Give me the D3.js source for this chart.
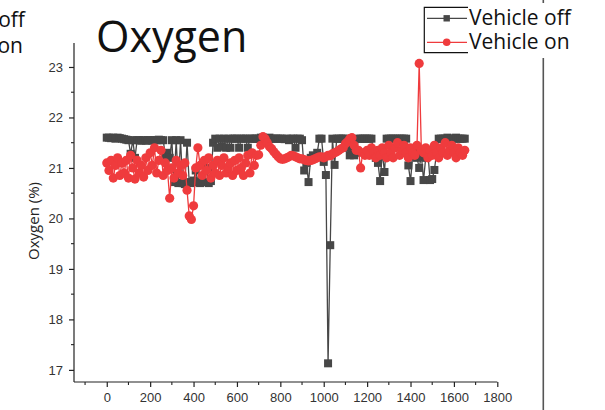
<!DOCTYPE html>
<html>
<head>
<meta charset="utf-8">
<script src="https://cdn.jsdelivr.net/npm/d3@7/dist/d3.min.js"></script>
<style>
  html, body { margin: 0; padding: 0; background: #fff; }
  svg { display: block; }
</style>
</head>
<body>
<svg id="chart" width="605" height="410"></svg>
<script>
// Sampling interval of the logger (s) — both runs share the same time grid
const timeStep = 10;

// Oxygen concentration (%) with the vehicle switched off
const vehicleOff = [
  21.60, 21.60, 21.59, 21.60, 21.58, 21.60, 21.59, 21.58, 21.57, 21.56,
  21.55, 21.28, 21.55, 21.20, 21.55, 21.55, 21.54, 21.55, 21.54, 21.55,
  21.55, 21.54, 21.55, 21.55, 21.56, 21.55, 21.55, 21.25, 21.30, 21.20,
  21.55, 20.72, 21.55, 20.70, 21.55, 20.70, 20.68, 21.50, 20.72, 20.70,
  20.75, 20.95, 20.72, 20.70, 20.78, 20.72, 21.00, 20.70, 20.74, 21.50,
  21.58, 21.40, 21.58, 21.42, 21.58, 21.40, 21.58, 21.40, 21.58, 21.58,
  21.58, 21.40, 21.58, 21.58, 21.58, 21.40, 21.58, 21.58, 21.58, 21.58,
  21.58, 21.60, 21.60, 21.58, 21.58, 21.60, 21.58, 21.58, 21.58, 21.58,
  21.58, 21.58, 21.57, 21.58, 21.55, 21.58, 21.58, 21.40, 21.58, 21.58,
  21.55, 20.95, 21.10, 20.72, 21.20, 21.25, 21.20, 21.30, 21.58, 21.58,
  21.12, 20.86, 17.13, 19.47, 21.58, 21.06, 21.58, 21.58, 21.58, 21.58,
  21.58, 21.40, 21.25, 21.30, 21.25, 21.30, 21.58, 21.58, 21.58, 21.58,
  21.58, 21.58, 21.58, 21.30, 21.20, 21.10, 20.74, 21.30, 20.92, 21.58,
  21.58, 21.58, 21.58, 21.58, 21.58, 21.58, 21.58, 21.58, 21.58, 21.05,
  20.74, 21.25, 21.30, 21.20, 21.00, 21.25, 20.76, 21.20, 21.30, 20.76,
  20.78, 20.96, 21.30, 21.58, 21.58, 21.58, 21.58, 21.60, 21.58, 21.58,
  21.58, 21.60, 21.58, 21.58, 21.58, 21.58
];

// Oxygen concentration (%) with the vehicle running
const vehicleOn = [
  21.10, 20.95, 21.15, 20.80, 21.05, 21.20, 20.85, 21.10, 20.90, 21.15,
  20.80, 21.25, 21.00, 20.78, 21.15, 20.90, 21.05, 20.82, 21.20, 20.95,
  21.30, 21.05, 21.40, 20.90, 21.15, 21.35, 20.85, 21.10, 20.95, 20.40,
  21.00, 20.80, 21.15, 20.90, 21.05, 20.85, 21.10, 20.56, 20.05, 19.98,
  20.25, 21.00, 21.40, 21.05, 20.85, 21.15, 20.95, 21.20, 20.80, 21.05,
  20.90, 21.15, 20.85, 21.05, 21.20, 20.90, 21.00, 21.10, 20.85, 21.15,
  20.95, 21.20, 21.00, 20.85, 21.10, 21.25, 20.90, 21.30, 21.05, 21.25,
  21.26, 21.45, 21.62, 21.58, 21.50, 21.42, 21.38, 21.32, 21.27, 21.22,
  21.18, 21.17, 21.18, 21.20, 21.22, 21.25, 21.24, 21.22, 21.20, 21.18,
  21.18, 21.16, 21.15, 21.14, 21.15, 21.16, 21.18, 21.20, 21.22, 21.22,
  21.20, 21.22, 21.25, 21.24, 21.28, 21.30, 21.32, 21.35, 21.38, 21.40,
  21.48, 21.52, 21.58, 21.60, 21.45, 21.35, 21.35, 21.00, 21.30, 21.25,
  21.35, 21.25, 21.40, 21.30, 21.20, 21.35, 21.25, 21.40, 21.30, 21.20,
  21.45, 21.30, 21.20, 21.40, 21.50, 21.25, 21.35, 21.45, 21.30, 21.20,
  21.40, 21.30, 21.25, 21.45, 23.07, 21.35, 21.30, 21.40, 21.20, 21.35,
  21.25, 21.45, 21.30, 21.20, 21.40, 21.30, 21.50, 21.25, 21.35, 21.45,
  21.30, 21.20, 21.40, 21.30, 21.25, 21.35
];

const seriesNames = ["Vehicle off", "Vehicle on"];
const xTicks = [0, 200, 400, 600, 800, 1000, 1200, 1400, 1600, 1800];
const xMinorTicks = [-100, 100, 300, 500, 700, 900, 1100, 1300, 1500, 1700];
const yTicks = [17, 18, 19, 20, 21, 22, 23];
const yMinorTicks = [17.5, 18.5, 19.5, 20.5, 21.5, 22.5];
const xDomain = [-151, 1800];
const yDomain = [16.76, 23.475];

const colorOff = "#474747";
const colorOn = "#ef3b3d";
const fontFamily = "'Liberation Sans', Arial, sans-serif";
const titleFont = "'Open Sans', 'Noto Sans', sans-serif";

const svg = d3.select("#chart");

const x = d3.scaleLinear().domain(xDomain).range([74, 497.3]);
const y = d3.scaleLinear().domain(yDomain).range([382, 43]);

const toPoints = vals => vals.map((v, i) => ({ t: i * timeStep, v }));
const offPts = toPoints(vehicleOff);
const onPts = toPoints(vehicleOn);

// Right-hand divider line of the figure panel
svg.append("line")
  .attr("x1", 543.3).attr("x2", 543.3)
  .attr("y1", 0).attr("y2", 410)
  .attr("stroke", "#555").attr("stroke-width", 1.6);

// Title
svg.append("text")
  .attr("x", 96).attr("y", 52)
  .attr("font-family", titleFont)
  .attr("font-size", 43)
  .attr("fill", "#111")
  .text("Oxygen");

// Clipped legend remnant at the top-left edge
svg.append("g")
  .attr("font-family", titleFont)
  .attr("font-size", 21)
  .attr("fill", "#111")
  .attr("text-anchor", "end")
  .call(g => {
    g.append("text").attr("x", 25).attr("y", 27).text("Vehicle off");
    g.append("text").attr("x", 23).attr("y", 53).text("Vehicle on");
  });

// Axes
const xAxis = d3.axisBottom(x).tickValues(xTicks).tickSize(5).tickPadding(6)
  .tickFormat(d3.format("d"));
const yAxis = d3.axisLeft(y).tickValues(yTicks).tickSize(5).tickPadding(6)
  .tickFormat(d3.format("d"));

const gx = svg.append("g").attr("transform", "translate(0,382)").call(xAxis);
gx.select(".domain").attr("d", `M74,0H${x(1800)}`);
const gy = svg.append("g").attr("transform", "translate(74,0)").call(yAxis);
gy.select(".domain").attr("d", `M0,43V382`);

[gx, gy].forEach(g => {
  g.select(".domain").attr("stroke", "#222").attr("stroke-width", 1.2);
  g.selectAll(".tick line").attr("stroke", "#222").attr("stroke-width", 1.2);
  g.selectAll(".tick text")
    .attr("font-family", fontFamily)
    .attr("font-size", 13)
    .attr("fill", "#333");
});

// Minor ticks
svg.append("g").selectAll("line").data(xMinorTicks).join("line")
  .attr("x1", d => x(d)).attr("x2", d => x(d))
  .attr("y1", 382).attr("y2", 385)
  .attr("stroke", "#222").attr("stroke-width", 1.1);
svg.append("g").selectAll("line").data(yMinorTicks).join("line")
  .attr("x1", 71).attr("x2", 74)
  .attr("y1", d => y(d)).attr("y2", d => y(d))
  .attr("stroke", "#222").attr("stroke-width", 1.1);

// Y axis title
svg.append("text")
  .attr("transform", "translate(39,221) rotate(-90)")
  .attr("text-anchor", "middle")
  .attr("font-family", titleFont)
  .attr("font-size", 15)
  .attr("fill", "#222")
  .text("Oxygen (%)");

// Series
const line = d3.line().x(d => x(d.t)).y(d => y(d.v));

svg.append("path").datum(offPts)
  .attr("d", line)
  .attr("fill", "none")
  .attr("stroke", colorOff)
  .attr("stroke-width", 1.3);
svg.append("g").selectAll("rect").data(offPts).join("rect")
  .attr("x", d => x(d.t) - 4).attr("y", d => y(d.v) - 4)
  .attr("width", 8).attr("height", 8)
  .attr("fill", colorOff);

svg.append("path").datum(onPts)
  .attr("d", line)
  .attr("fill", "none")
  .attr("stroke", colorOn)
  .attr("stroke-width", 1.3);
svg.append("g").selectAll("circle").data(onPts).join("circle")
  .attr("cx", d => x(d.t)).attr("cy", d => y(d.v))
  .attr("r", 4.6)
  .attr("fill", colorOn);

// Legend
const legend = svg.append("g");
legend.append("path")
  .attr("d", "M468,7.3H424.3V52.7H468")
  .attr("fill", "none").attr("stroke", "#111").attr("stroke-width", 1.2);
legend.append("rect")
  .attr("x", 468).attr("y", 3).attr("width", 114).attr("height", 55)
  .attr("fill", "#fff");
const legendRows = [
  { name: seriesNames[0], color: colorOff, shape: "square", y: 18.3 },
  { name: seriesNames[1], color: colorOn, shape: "circle", y: 42.3 }
];
legendRows.forEach(r => {
  legend.append("line")
    .attr("x1", 427).attr("x2", 467).attr("y1", r.y).attr("y2", r.y)
    .attr("stroke", r.color).attr("stroke-width", 1.2);
  if (r.shape === "square") {
    legend.append("rect")
      .attr("x", 443.5).attr("y", r.y - 3.2).attr("width", 6.4).attr("height", 6.4)
      .attr("fill", r.color);
  } else {
    legend.append("circle")
      .attr("cx", 446.7).attr("cy", r.y).attr("r", 3.8).attr("fill", r.color);
  }
  legend.append("text")
    .attr("x", 469).attr("y", r.y + 7)
    .attr("font-family", titleFont)
    .attr("font-size", 21)
    .attr("fill", "#111")
    .text(r.name);
});
</script>
</body>
</html>
